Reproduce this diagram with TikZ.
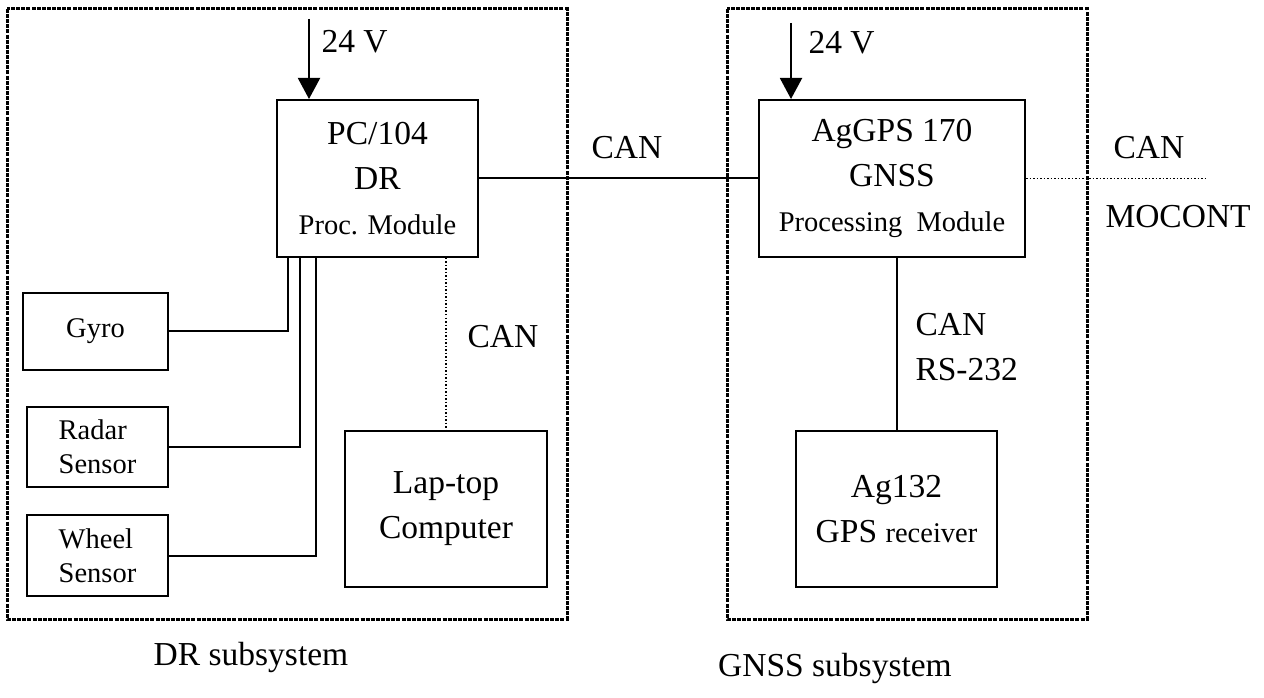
\documentclass[tikz,border=0pt]{standalone}
\usepackage{fontspec}
\setmainfont{Liberation Serif}
\usetikzlibrary{arrows.meta,calc,positioning}
\newcommand\bigtxt{\fontsize{13.4}{18}\selectfont}
\newcommand\smalltxt{\fontsize{11.4}{13.6}\selectfont}

\begin{document}
\begin{tikzpicture}[x=0.4pt,y=-0.4pt,
  blk/.style={draw,line width=0.8pt,inner sep=0pt,align=center,font=\bigtxt},
  sensor/.style={blk,font=\smalltxt,align=left,minimum width=56.4pt,minimum height=32pt},
  frame/.style={line width=1.2pt,dash pattern=on 1.6pt off 0.45pt},
  bus/.style={line width=0.8pt},
  fine/.style={line width=0.6pt,dash pattern=on 0.6pt off 0.8pt},
  pwr/.style={line width=0.8pt,-{Triangle[length=8.4pt,width=8.8pt]}},
  lbl/.style={font=\bigtxt,inner sep=0pt}]
\useasboundingbox (0,0) rectangle (1264,698);

% subsystem frames
\draw[frame] (7,9) rectangle (567,619);
\draw[frame] (727,9) rectangle (1087,619);

% DR side
\node[blk,minimum width=80.4pt,minimum height=62.8pt] (pc) at (377.5,178.5)
   {PC/104\\DR\\{\smalltxt Proc. Module}};
\node[blk,font=\smalltxt,minimum width=58pt,minimum height=30.8pt] (gyro) at (95.5,331.5) {Gyro};
\node[sensor] (radar) at (97.5,447) {Radar\\Sensor};
\node[sensor,minimum height=32.4pt] (wheel) at (97.5,555.5) {Wheel\\Sensor};
\node[blk,minimum width=80.8pt,minimum height=62.4pt] (laptop) at (446,509)
   {Lap-top\\Computer};

% GNSS side
\node[blk,minimum width=106.4pt,minimum height=62.8pt] (gnss) at (892,178.5)
   {AgGPS 170\\GNSS\\{\smalltxt Processing\ \ Module}};
\node[blk,minimum width=80.4pt,minimum height=62.4pt] (rcv) at (896.5,509)
   {Ag132\\GPS {\smalltxt receiver}};

% power in
\coordinate (pwrdr) at (309,19);
\coordinate (pwrgnss) at (791,23);
\draw[pwr] (pwrdr) -- (pwrdr |- pc.north);
\draw[pwr] (pwrgnss) -- (pwrgnss |- gnss.north);
\node[lbl,anchor=west] (vdr) at (321,42) {24 V};
\node[lbl,anchor=west] (vgnss) at (808,43) {24 V};

% sensor wiring
\draw[bus] (gyro.east) -| ($(pc.south west)+(12,0)$);
\draw[bus] (radar.east) -| ($(pc.south west)+(24,0)$);
\draw[bus] (wheel.east) -| ($(pc.south west)+(40,0)$);
\draw[fine] (pc.south -| laptop.north) -- (laptop.north);
\node[lbl,anchor=west] (canlap) at (467,337) {CAN};

% links
\draw[bus] (pc.east) -- (gnss.west);
\node[lbl] (canmid) at (627,148) {CAN};
\draw[bus] (rcv.north |- gnss.south) -- (rcv.north);
\node[lbl,anchor=west,align=left] (canrs) at (915,347) {CAN\\RS-232};
\coordinate (mocont) at (1208,178.5);
\draw[fine] (gnss.east) -- (mocont);
\node[lbl,anchor=west] (canout) at (1113,148) {CAN};
\node[lbl,anchor=west] (moc) at (1105,217) {MOCONT};

% captions
\node[lbl] (drcap) at (251,657) {DR subsystem};
\node[lbl] (gnsscap) at (835,668) {GNSS subsystem};
\end{tikzpicture}
\end{document}
